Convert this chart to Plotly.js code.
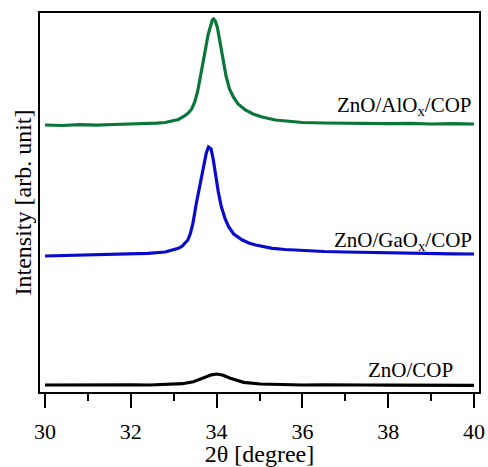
<!DOCTYPE html>
<html>
<head>
<meta charset="utf-8">
<script src="https://cdn.plot.ly/plotly-3.0.1.min.js"></script>
<style>
html,body{margin:0;padding:0;background:#fff;}
#chart{width:488px;height:467px;}
</style>
</head>
<body>
<div id="chart"></div>
<script>
// ZnO/AlOx/COP (green)
const xAl = [30.0,30.4,30.8,31.2,31.6,32.0,32.4,32.6,32.8,33.0,33.11,33.25,33.34,33.42,33.49,33.56,33.64,33.72,33.80,33.86,33.90,33.93,33.97,34.02,34.07,34.14,34.22,34.30,34.39,34.50,34.67,34.85,35.06,35.37,35.7,36.0,36.5,37.0,37.5,38.0,38.5,39.0,39.5,40.0];
const yAl = [267,266.5,267.3,266.8,267.5,267.8,268.2,268.8,269.5,271,272.5,276,279,283,290,301,318,338,357,367,372,373,371,364,353,334,316,303,295,288,282,278,275,272,270.5,269.5,269,268.5,268.8,268.3,268.6,268,268.4,268];
// ZnO/GaOx/COP (blue)
const xGa = [30.0,30.4,30.8,31.2,31.6,32.0,32.4,32.8,33.0,33.11,33.2,33.27,33.33,33.39,33.45,33.52,33.6,33.70,33.76,33.81,33.84,33.87,33.92,33.97,34.04,34.11,34.2,34.28,34.4,34.6,34.75,34.91,35.1,35.3,35.6,36.0,36.5,37.0,37.5,38.0,38.5,39.0,39.5,40.0];
const yGa = [136,136.5,136.2,137,137.3,138,138.6,140,142,143.7,146,148.7,152,158.7,169,187,204,225,239,245,244,243,233,219,200,185.3,173,165.3,158,152,149,147,145,143.7,142.5,141.5,140.5,140,139.5,139,138.8,138.5,138.2,138];
// ZnO/COP (black)
const xZn = [30.0,30.5,31.0,31.5,32.0,32.45,32.9,33.2,33.46,33.6,33.74,33.88,34.01,34.15,34.32,34.48,34.63,35.02,35.5,36.0,36.5,37.0,37.5,38.0,38.5,39.0,39.5,40.0];
const yZn = [7,7.2,7,7.3,7.2,7,7.5,8.3,10.3,12.5,15.3,17.2,18,16.8,13.7,11.5,9.7,8,7.3,7,7.2,6.8,7,6.9,6.8,7,6.7,6.7];

const labels = ["ZnO/AlO<sub>x</sub>/COP","ZnO/GaO<sub>x</sub>/COP","ZnO/COP"];
const labelX = [40.0, 40.0, 39.55];
const labelY = [286, 151.5, 22];

const SERIF = "Liberation Serif";
const traces = [
  {x:xAl, y:yAl, type:'scatter', mode:'lines', line:{color:'rgb(10,118,58)', width:3.2}, hoverinfo:'skip'},
  {x:xGa, y:yGa, type:'scatter', mode:'lines', line:{color:'rgb(10,10,205)', width:3.2}, hoverinfo:'skip'},
  {x:xZn, y:yZn, type:'scatter', mode:'lines', line:{color:'rgb(0,0,0)', width:3.2}, hoverinfo:'skip'}
];
const layout = {
  width:488, height:467,
  margin:{l:40, r:9, t:13, b:75},
  showlegend:false,
  font:{family:SERIF, size:21, color:'#000000'},
  xaxis:{
    range:[29.883, 40.117], tickvals:[30,32,34,36,38,40], ticks:'outside', ticklen:14, tickwidth:2, tickcolor:'#000000',
    minor:{tickvals:[31,33,35,37,39], ticks:'outside', ticklen:7, tickwidth:2, tickcolor:'#000000'},
    showline:true, linewidth:2, linecolor:'#000000', mirror:true, showgrid:false, zeroline:false,
    ticklabelstandoff:5,
    tickfont:{size:22, family:SERIF, color:'#000000'},
    title:{text:'2θ [degree]', font:{size:24, family:SERIF, color:'#000000'}, standoff:1}
  },
  yaxis:{
    range:[0,379], showticklabels:false, ticks:'', showline:true, linewidth:2, linecolor:'#000000', mirror:true,
    showgrid:false, zeroline:false,
    title:{text:'Intensity [arb. unit]', font:{size:24, family:SERIF, color:'#000000'}, standoff:0}
  },
  annotations: labels.map((t,i)=>({x:labelX[i], y:labelY[i], text:t, showarrow:false, xanchor:'right', yanchor:'middle', font:{family:SERIF, size:21, color:'#000000'}}))
};
Plotly.newPlot('chart', traces, layout, {staticPlot:true});
</script>
</body>
</html>
